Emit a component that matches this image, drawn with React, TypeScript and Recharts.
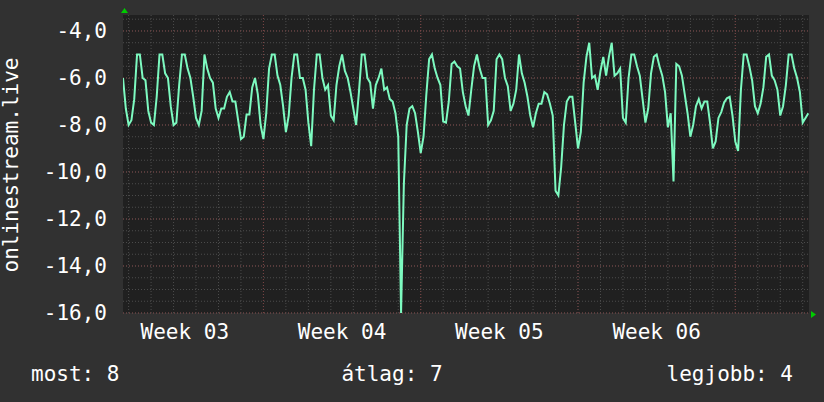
import React from 'react';
import { LineChart, Line, XAxis, YAxis, CartesianGrid } from 'recharts';

// ---- data: one value every 3 hours, first sample at day 0.75 (day 0 = Monday of week 03)
const START_DAY = 0.75;
const STEP_DAYS = 0.125;

const week03 = [
  -6.0, -7.3,
  -8.0, -7.8, -6.9, -5.0, -5.0, -6.0, -6.1, -7.4,
  -7.9, -8.0, -6.8, -5.0, -5.0, -5.8, -6.0, -7.2,
  -8.0, -7.9, -6.3, -5.0, -5.0, -5.6, -6.0, -6.8,
  -7.7, -8.0, -7.4, -5.0, -5.6, -6.0, -6.2, -7.3,
  -7.7, -7.3, -7.3, -6.8, -6.6, -7.0, -7.0, -7.8,
  -8.6, -8.5, -7.55, -7.55, -6.4, -6.0, -6.7, -8.0,
];
const week04 = [
  -8.6, -7.5, -5.6, -5.0, -5.0, -5.9, -6.3, -7.2,
  -8.3, -7.6, -6.0, -5.0, -5.0, -6.0, -6.0, -6.5,
  -7.9, -8.9, -6.5, -5.0, -5.0, -6.0, -6.5, -6.3,
  -7.6, -7.8, -6.3, -5.5, -5.0, -5.7, -6.0, -6.6,
  -7.3, -8.0, -6.6, -5.0, -5.0, -6.0, -6.2, -7.3,
  -6.3, -6.0, -5.6, -6.5, -6.4, -6.9, -7.0, -7.5,
  -8.5, -16.0, -10.5, -8.0, -7.3, -7.2, -7.5, -8.3,
];
const week05 = [
  -9.2, -8.5, -6.7, -5.2, -5.0, -5.6, -6.0, -6.3,
  -7.85, -7.9, -7.0, -5.4, -5.3, -5.5, -5.6, -6.6,
  -7.2, -7.6, -6.5, -5.5, -5.0, -5.6, -6.0, -6.0,
  -8.0, -7.8, -7.4, -5.2, -5.0, -5.2, -6.0, -6.35,
  -7.4, -7.1, -6.5, -5.0, -5.8, -6.2, -6.8, -7.6,
  -8.1, -7.5, -7.1, -7.1, -6.6, -6.7, -7.1, -7.6,
  -10.8, -11.0, -9.8, -8.0, -7.0, -6.8, -6.8, -7.9,
];
const week06 = [
  -9.0, -8.3, -6.2, -5.1, -4.5, -6.0, -5.9, -6.5,
  -5.7, -5.1, -5.9, -5.1, -4.5, -5.9, -5.8, -5.6,
  -7.7, -7.9, -6.0, -5.0, -5.0, -5.5, -5.9, -6.9,
  -7.9, -7.3, -5.8, -5.1, -5.0, -5.5, -5.9, -6.6,
  -8.1, -7.5, -10.4, -5.4, -5.5, -5.9, -6.7, -7.5,
  -8.5, -8.0, -7.2, -6.9, -7.3, -7.0, -7.0, -7.9,
  -9.0, -8.7, -7.7, -7.45, -7.05, -6.86, -6.8, -7.6,
];
const week07 = [
  -8.7, -9.1, -6.5, -5.0, -5.0, -5.5, -6.1, -7.2,
  -7.5, -7.1, -6.4, -5.1, -5.0, -5.9, -6.1, -6.5,
  -7.6, -7.2, -6.3, -5.0, -5.0, -5.6, -6.0, -6.6,
  -7.9, -7.7, -7.5,
];

const values = [...week03, ...week04, ...week05, ...week06, ...week07];
const data = values.map((v, i) => ({ t: START_DAY + i * STEP_DAYS, v }));

const X_DOMAIN = [0.75, 31.28];
const Y_DOMAIN = [-16, -3.32];
const weekLabelDays = [3.5, 10.5, 17.5, 24.5];
const weekLabels = ['Week 03', 'Week 04', 'Week 05', 'Week 06'];
const yTicks = [-16, -14, -12, -10, -8, -6, -4];
const minorY = [-16, -15.5, -15, -14.5, -14, -13.5, -13, -12.5, -12, -11.5, -11, -10.5, -10, -9.5, -9, -8.5, -8, -7.5, -7, -6.5, -6, -5.5, -5, -4.5, -4, -3.5];
const majorY = [-16, -14, -12, -10, -8, -6, -4];
const dayLines = [1, 2, 3, 4, 5, 6, 7, 8, 9, 10, 11, 12, 13, 14, 15, 16, 17, 18, 19, 20, 21, 22, 23, 24, 25, 26, 27, 28, 29, 30, 31];
const weekLines = [7, 14, 21, 28];
const yTitle = 'onlinestream.live';
const legendItems = ['most: 8', 'átlag: 7', 'legjobb: 4'];

// ---- layout
const W = 824;
const H = 402;
const PLOT_L = 123;
const PLOT_T = 15;
const PLOT_R = 809;
const PLOT_B = 313;
const Y_AXIS_W = 110;
const X_AXIS_H = 40;
const FONT = '"DejaVu Sans Mono", monospace';
const TXT = '#ffffff';
const BG = '#313131';

const weekLabelMap: Record<number, string> = {};
weekLabelDays.forEach((d, i) => { weekLabelMap[d] = weekLabels[i]; });

export default function App() {
  return (
    <div style={{ position: 'absolute', left: 0, top: 0, width: W, height: H, background: BG }}>
      <LineChart
        width={W}
        height={H}
        data={data}
        margin={{ top: PLOT_T, right: W - PLOT_R, bottom: H - PLOT_B - X_AXIS_H, left: PLOT_L - Y_AXIS_W }}
      >
        <CartesianGrid
          stroke="#4c4c4c"
          strokeDasharray="1 2"
          fill="#202020"
          horizontalValues={minorY}
          verticalValues={dayLines}
        />
        <CartesianGrid
          stroke="#7a4242"
          strokeDasharray="1 2"
          horizontalValues={majorY}
          verticalValues={weekLines}
        />
        <XAxis
          dataKey="t"
          type="number"
          domain={X_DOMAIN}
          allowDataOverflow
          ticks={weekLabelDays}
          interval={0}
          tickFormatter={(v: number) => weekLabelMap[v] ?? ''}
          axisLine={false}
          tickLine={false}
          tickSize={0}
          tickMargin={11}
          height={X_AXIS_H}
          tick={{ fill: TXT, fontSize: 21, fontFamily: FONT }}
        />
        <YAxis
          type="number"
          domain={Y_DOMAIN}
          allowDataOverflow
          ticks={yTicks}
          interval={0}
          tickFormatter={(v: number) => v.toFixed(1).replace('.', ',')}
          axisLine={false}
          tickLine={false}
          tickSize={0}
          tickMargin={16}
          width={Y_AXIS_W}
          tick={{ fill: TXT, fontSize: 21, fontFamily: FONT }}
        />
        <Line
          type="linear"
          dataKey="v"
          stroke="#7dfac0"
          strokeWidth={2}
          dot={false}
          isAnimationActive={false}
        />
      </LineChart>
      <svg width={W} height={H} style={{ position: 'absolute', left: 0, top: 0, pointerEvents: 'none' }}>
        <polygon points={`${PLOT_L + 1.5},${PLOT_T - 7} ${PLOT_L - 2},${PLOT_T - 2} ${PLOT_L + 5},${PLOT_T - 2}`} fill="#00cc00" />
        <polygon points={`${PLOT_R + 7},${PLOT_B + 1.5} ${PLOT_R + 2},${PLOT_B - 2} ${PLOT_R + 2},${PLOT_B + 5}`} fill="#00cc00" />
        <text
          x={18}
          y={165}
          transform="rotate(-90 18 165)"
          textAnchor="middle"
          fill={TXT}
          fontSize={21}
          fontFamily={FONT}
        >
          {yTitle}
        </text>
        <text x={31} y={380.5} fill={TXT} fontSize={21} fontFamily={FONT}>{legendItems[0]}</text>
        <text x={392} y={380.5} textAnchor="middle" fill={TXT} fontSize={21} fontFamily={FONT}>{legendItems[1]}</text>
        <text x={793} y={380.5} textAnchor="end" fill={TXT} fontSize={21} fontFamily={FONT}>{legendItems[2]}</text>
      </svg>
    </div>
  );
}
